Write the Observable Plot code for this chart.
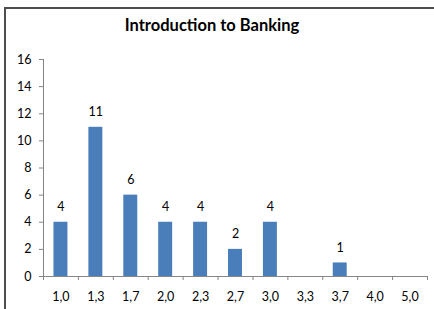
<!DOCTYPE html>
<html>
<head>
<meta charset="utf-8">
<script src="https://cdn.jsdelivr.net/npm/d3@7"></script>
<script src="https://cdn.jsdelivr.net/npm/@observablehq/plot@0.6"></script>
<style>
  html, body { margin: 0; padding: 0; background: #fff; }
  #wrap { position: relative; width: 434px; height: 309px; overflow: hidden; font-family: Lato, "Open Sans", sans-serif; }
  #frame { position: absolute; left: 4px; top: 7px; width: 460px; height: 330px; border-left: 2px solid #4d4d4d; border-top: 2px solid #4d4d4d; box-sizing: border-box; }
  #title { position: absolute; left: 0; top: 15px; width: 424px; text-align: center; font-weight: bold; font-size: 16.5px; color: #000; }
  #chart { position: absolute; left: 0; top: 0; }
</style>
</head>
<body>
<div id="wrap">
  <div id="frame"></div>
  <div id="title">Introduction to Banking</div>
  <div id="chart"></div>
</div>
<script>
const categories = ["1,0", "1,3", "1,7", "2,0", "2,3", "2,7", "3,0", "3,3", "3,7", "4,0", "5,0"];
const counts = [4, 11, 6, 4, 4, 2, 4, 0, 1, 0, 0];
const yTicks = [0, 2, 4, 6, 8, 10, 12, 14, 16];

const data = categories.map((c, i) => ({i, c, v: counts[i]}));
const n = categories.length;
const axisColor = "#868686";

const plot = Plot.plot({
  width: 434,
  height: 309,
  marginLeft: 43,
  marginRight: 7,
  marginTop: 59,
  marginBottom: 33,
  style: {fontFamily: "Lato, 'Open Sans', sans-serif", fontSize: "12.5px", color: "#000", background: "transparent"},
  x: {type: "linear", domain: [0, n], axis: null, label: null},
  y: {domain: [0, 16], axis: null, label: null},
  marks: [
    Plot.rectY(data, {x1: d => d.i + 0.3, x2: d => d.i + 0.7, y: "v", fill: "#4a7ebb"}),
    Plot.ruleX([0], {y1: 0, y2: 16, stroke: axisColor}),
    Plot.ruleY([0], {x1: 0, x2: n, stroke: axisColor}),
    Plot.axisY({ticks: yTicks, tickSize: 4, tickPadding: 8, stroke: axisColor, fill: "#000", label: null, tickFormat: d => String(d)}),
    Plot.axisX({ticks: d3.range(n + 1), tickSize: 4, label: null, tickFormat: () => "", stroke: axisColor}),
    Plot.axisX({ticks: d3.range(n).map(i => i + 0.5), tickSize: 0, tickPadding: 16, label: null, tickFormat: t => categories[Math.round(t - 0.5)], fill: "#000"}),
    Plot.text(data.filter(d => d.v > 0), {x: d => d.i + 0.5, y: "v", text: d => String(d.v), dy: -15, fill: "#000", fontSize: 12.5})
  ]
});
document.getElementById("chart").appendChild(plot);
</script>
</body>
</html>
